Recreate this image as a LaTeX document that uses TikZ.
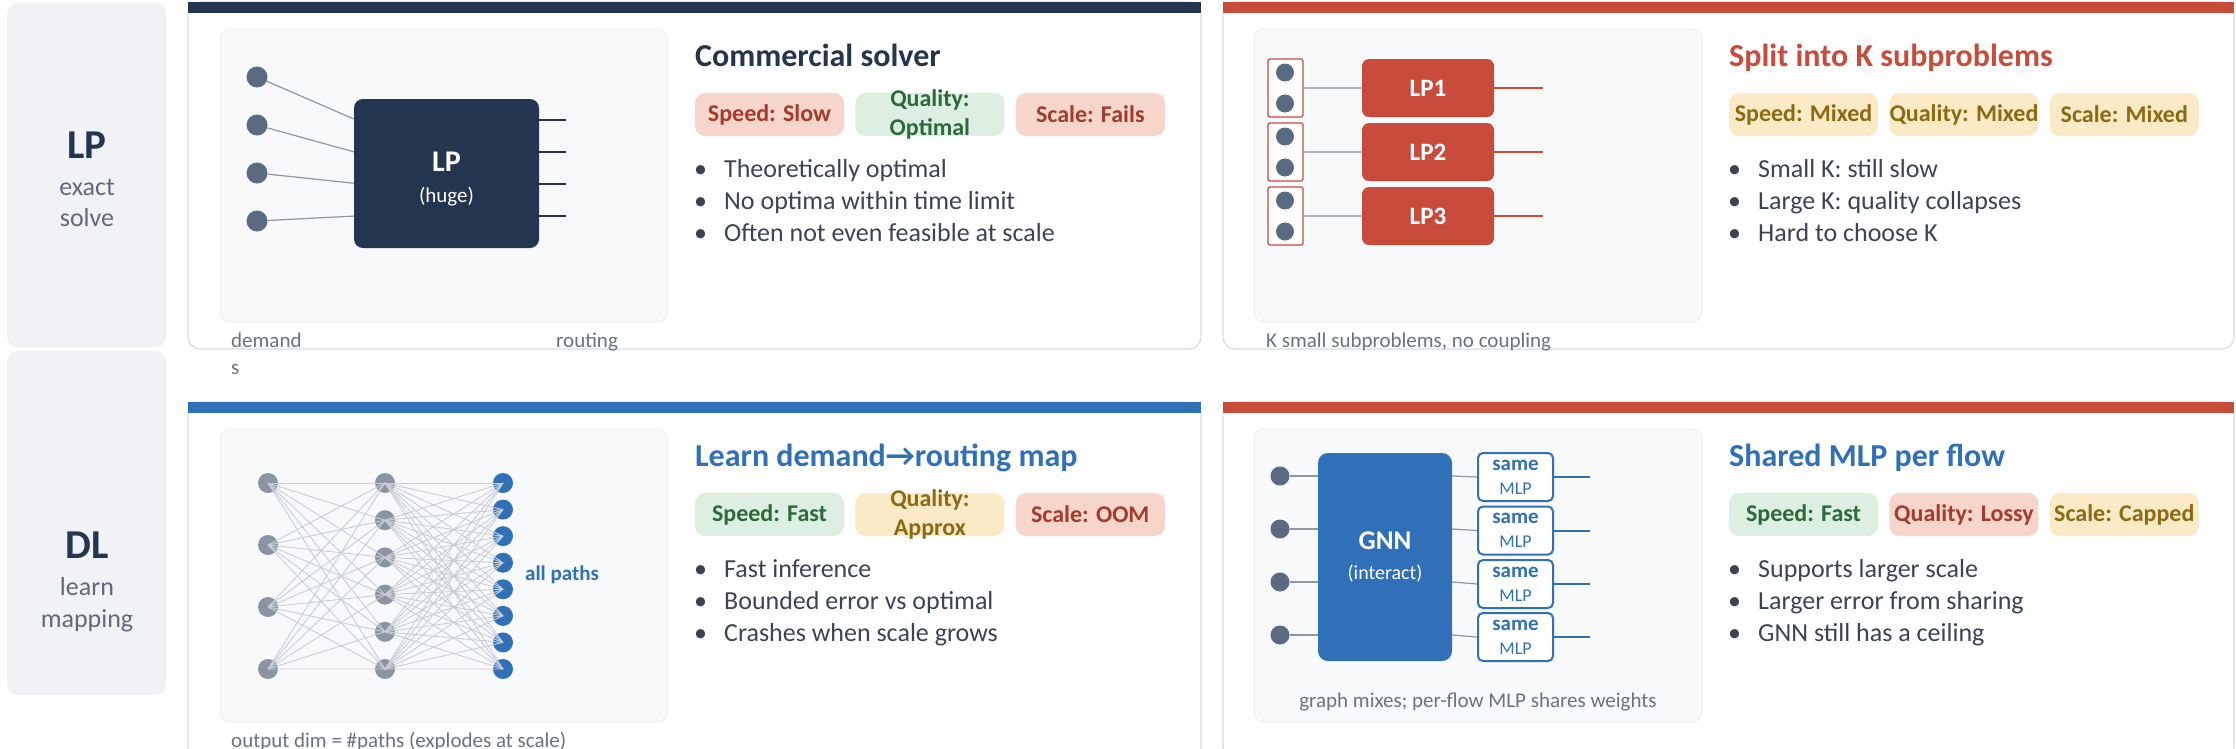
\documentclass[tikz,border=0pt]{standalone}
\usepackage{fontspec}
\setmainfont{Carlito}
\usetikzlibrary{calc,positioning}
\definecolor{lpnavy}{HTML}{243550}
\definecolor{splitred}{HTML}{C84B3C}
\definecolor{dlblue}{HTML}{3070B8}
\definecolor{dotslate}{HTML}{5A6A80}
\definecolor{nngray}{HTML}{8A94A2}
\definecolor{meshgray}{HTML}{C9CED6}
\definecolor{feedgray}{HTML}{8C96A4}
\definecolor{linkgray}{HTML}{A9B4C3}
\definecolor{rowbg}{HTML}{F0F2F5}
\definecolor{hintgray}{HTML}{5F6977}
\definecolor{cardline}{HTML}{D7DDE5}
\definecolor{panelbg}{HTML}{F8F9FB}
\definecolor{panelline}{HTML}{ECEFF3}
\definecolor{bodytext}{HTML}{3A4456}
\definecolor{notegray}{HTML}{69737F}
\definecolor{poorfill}{HTML}{F6D5CB}
\definecolor{poortext}{HTML}{A33B2E}
\definecolor{goodfill}{HTML}{DCEFE1}
\definecolor{goodtext}{HTML}{2D6A3B}
\definecolor{fairfill}{HTML}{FAEAC6}
\definecolor{fairtext}{HTML}{8B6A12}
\newcommand{\bulletmark}{\makebox[30pt][l]{\textbullet}}

\begin{document}
\begin{tikzpicture}[
  x=1pt,y=-1pt,
  rowpanel/.style={fill=rowbg,rounded corners=10pt},
  rowname/.style={anchor=base,inner sep=0pt,text=lpnavy,font=\fontsize{41}{41}\selectfont\bfseries},
  rowhint/.style={anchor=base,inner sep=0pt,text=hintgray,font=\fontsize{26}{26}\selectfont},
  card/.style={draw=cardline,line width=1.2pt,fill=white,rounded corners=12pt},
  panel/.style={draw=panelline,line width=1pt,fill=panelbg,rounded corners=10pt},
  heading/.style={anchor=base west,inner sep=0pt,font=\fontsize{32}{32}\selectfont\bfseries},
  badge/.style={rounded corners=10pt,minimum width=149pt,minimum height=43pt,inner sep=0pt,
                align=center,font=\fontsize{24}{29}\selectfont\bfseries},
  poor/.style={badge,fill=poorfill,text=poortext},
  good/.style={badge,fill=goodfill,text=goodtext},
  fair/.style={badge,fill=fairfill,text=fairtext},
  twoline/.style={inner ysep=-8pt},
  point/.style={anchor=base west,inner sep=0pt,text=bodytext,font=\fontsize{26}{26}\selectfont},
  note/.style={anchor=base west,inner sep=0pt,text=notegray,font=\fontsize{21}{27}\selectfont},
  demand/.style={circle,fill=dotslate,minimum size=21pt,inner sep=0pt},
  solverbox/.style={fill=lpnavy,text=white,rounded corners=9pt,minimum width=185pt,minimum height=149pt,
                    align=center,font=\fontsize{30}{31}\selectfont\bfseries},
  pair/.style={draw=splitred,line width=1.2pt,fill=white,rounded corners=2pt,minimum width=35pt,
               minimum height=58pt,inner sep=0pt},
  subbox/.style={fill=splitred,text=white,rounded corners=7pt,minimum width=132pt,minimum height=58pt,
                 font=\fontsize{25}{25}\selectfont\bfseries},
  neuron/.style={circle,fill=nngray,minimum size=20pt,inner sep=0pt},
  outneuron/.style={neuron,fill=dlblue},
  gnnbox/.style={fill=dlblue,text=white,rounded corners=10pt,minimum width=134pt,minimum height=208pt,
                 align=center,font=\fontsize{27}{30}\selectfont\bfseries},
  mlpbox/.style={draw=dlblue,line width=2pt,fill=white,text=dlblue,rounded corners=5pt,minimum width=75pt,
                 minimum height=48pt,inner sep=0pt,align=center,font=\fontsize{21}{24}\selectfont\bfseries},
  feed/.style={feedgray,line width=1.2pt},
  link/.style={linkgray,line width=2pt},
  mesh/.style={meshgray,line width=0.9pt},
  navywire/.style={lpnavy,line width=2pt},
  redwire/.style={splitred,line width=2pt},
  bluewire/.style={dlblue,line width=2pt}
]
  \useasboundingbox (0,0) rectangle (2236,748);
  \clip (0,0) rectangle (2236,748);

  % row labels
  \path[rowpanel] (7,3) rectangle (166,347);
  \path[rowpanel] (7,351) rectangle (166,695);
  \node[rowname] (lprow) at (87,158) {LP};
  \node[rowhint] (lphint1) at (87,195) {exact};
  \node[rowhint] (lphint2) at ([yshift=-31pt]lphint1.base) {solve};
  \node[rowname] (dlrow) at (87,558) {DL};
  \node[rowhint] (dlhint1) at (87,595) {learn};
  \node[rowhint] (dlhint2) at ([yshift=-32pt]dlhint1.base) {mapping};

  % commercial solver
  \path[card] (188,2) rectangle (1201,349);
  \fill[lpnavy] (188,2) rectangle (1201,13);
  \path[panel] (220,29) rectangle (667,322);
  \foreach \i/\y in {1/77,2/125,3/173,4/221}
    \node[demand] (dm\i) at (257,\y) {};
  \node[solverbox] (solver) at (446.5,173.5)
    {\rule{0pt}{30pt}LP\\{\fontsize{21}{21}\selectfont\mdseries (huge)}};
  \foreach \i/\f in {1/0.135,2/0.355,3/0.565,4/0.785}
    \draw[feed] (dm\i) -- ($(solver.north west)!\f!(solver.south west)$);
  \foreach \i/\y in {1/120,2/152,3/184,4/216}{
    \coordinate (rt\i) at (566,\y);
    \draw[navywire] (solver.east |- rt\i) -- (rt\i);}
  \node[note,align=left] (demands) at (231,374) {demand\\s};
  \node[note] (routing) at (556,347) {routing};
  \node[heading,text=lpnavy] (solvertitle) at (695,66) {Commercial solver};
  \node[poor] (lpspeed) at (769.5,114.5) {Speed: Slow};
  \node[good,twoline,right=11pt of lpspeed] (lpquality) {Quality:\\Optimal};
  \node[poor,right=11pt of lpquality] (lpscale) {Scale: Fails};
  \node[point] (lpb1) at (694,177) {\bulletmark Theoretically optimal};
  \node[point] (lpb2) at ([yshift=-32pt]lpb1.base west) {\bulletmark No optima within time limit};
  \node[point] (lpb3) at ([yshift=-32pt]lpb2.base west) {\bulletmark Often not even feasible at scale};

  % split into K subproblems
  \path[card] (1223,2) rectangle (2234,349);
  \fill[splitred] (1223,2) rectangle (2234,13);
  \path[panel] (1254,29) rectangle (1702,322);
  \foreach \i/\y in {1/88,2/152,3/216}{
    \node[pair] (pr\i) at (1285.5,\y) {};
    \node[demand,minimum size=18pt] (pa\i) at (1285,\y-15.5) {};
    \node[demand,minimum size=18pt] (pb\i) at (1285,\y+15.5) {};
    \node[subbox] (sub\i) at (1428,\y) {LP\i};
    \draw[link] (pr\i) -- (sub\i);
    \coordinate (so\i) at (1543,\y);
    \draw[redwire] (sub\i) -- (so\i);}
  \node[note] (nocoupling) at (1266,347) {K small subproblems, no coupling};
  \node[heading,text=splitred] (splittitle) at (1729,66) {Split into K subproblems};
  \node[fair] (kspeed) at (1803.5,114.5) {Speed: Mixed};
  \node[fair,right=11pt of kspeed] (kquality) {Quality: Mixed};
  \node[fair,right=11pt of kquality] (kscale) {Scale: Mixed};
  \node[point] (kb1) at (1728,177) {\bulletmark Small K: still slow};
  \node[point] (kb2) at ([yshift=-32pt]kb1.base west) {\bulletmark Large K: quality collapses};
  \node[point] (kb3) at ([yshift=-32pt]kb2.base west) {\bulletmark Hard to choose K};

  % learn the mapping
  \path[card] (188,402) rectangle (1201,760);
  \fill[dlblue] (188,402) rectangle (1201,413);
  \path[panel] (220,429) rectangle (667,722);
  \foreach \i in {0,...,3}
    \node[neuron] (in\i) at (268,483+62*\i) {};
  \foreach \j in {0,...,5}
    \node[neuron] (hd\j) at (385,483+37.2*\j) {};
  \foreach \k in {0,...,7}
    \node[outneuron] (out\k) at (503,483+26.571*\k) {};
  \foreach \i in {0,...,3}
    \foreach \j in {0,...,5}
      \draw[mesh] (in\i.center) -- (hd\j.center);
  \foreach \j in {0,...,5}
    \foreach \k in {0,...,7}
      \draw[mesh] (hd\j.center) -- (out\k.center);
  \node[anchor=base west,inner sep=0pt,text=dlblue,font=\fontsize{21}{21}\selectfont\bfseries]
    (allpaths) at (525,580) {all paths};
  \node[note] (outdim) at (231,747) {output dim = \#paths (explodes at scale)};
  \node[heading,text=dlblue] (dltitle) at (695,466) {Learn demand→routing map};
  \node[good] (dlspeed) at (769.5,514.5) {Speed: Fast};
  \node[fair,twoline,right=11pt of dlspeed] (dlquality) {Quality:\\Approx};
  \node[poor,right=11pt of dlquality] (dlscale) {Scale: OOM};
  \node[point] (dlb1) at (694,577) {\bulletmark Fast inference};
  \node[point] (dlb2) at ([yshift=-32pt]dlb1.base west) {\bulletmark Bounded error vs optimal};
  \node[point] (dlb3) at ([yshift=-32pt]dlb2.base west) {\bulletmark Crashes when scale grows};

  % shared MLP per flow
  \path[card] (1223,402) rectangle (2234,760);
  \fill[splitred] (1223,402) rectangle (2234,413);
  \path[panel] (1254,429) rectangle (1702,722);
  \node[gnnbox] (gnn) at (1385,557) {GNN\\{\fontsize{20}{20}\selectfont\mdseries (interact)}};
  \foreach \i/\y/\m in {1/476/477,2/529/530.5,3/582/584,4/635/637}{
    \node[demand,minimum size=19pt] (fl\i) at (1280,\y) {};
    \node[mlpbox] (mlp\i) at (1515.5,\m) {same\\{\fontsize{18}{18}\selectfont\mdseries MLP}};
    \draw[feed] (fl\i) -- (fl\i -| gnn.west);
    \draw[feed] (gnn.east |- fl\i) -- (mlp\i.west);
    \coordinate (fo\i) at (1590,\m);
    \draw[bluewire] (mlp\i) -- (fo\i);}
  \node[note,anchor=base] (sharing) at (1478,707) {graph mixes; per-flow MLP shares weights};
  \node[heading,text=dlblue] (mlptitle) at (1729,466) {Shared MLP per flow};
  \node[good] (mlpspeed) at (1803.5,514.5) {Speed: Fast};
  \node[poor,right=11pt of mlpspeed] (mlpquality) {Quality: Lossy};
  \node[fair,right=11pt of mlpquality] (mlpscale) {Scale: Capped};
  \node[point] (mlpb1) at (1728,577) {\bulletmark Supports larger scale};
  \node[point] (mlpb2) at ([yshift=-32pt]mlpb1.base west) {\bulletmark Larger error from sharing};
  \node[point] (mlpb3) at ([yshift=-32pt]mlpb2.base west) {\bulletmark GNN still has a ceiling};
\end{tikzpicture}
\end{document}
